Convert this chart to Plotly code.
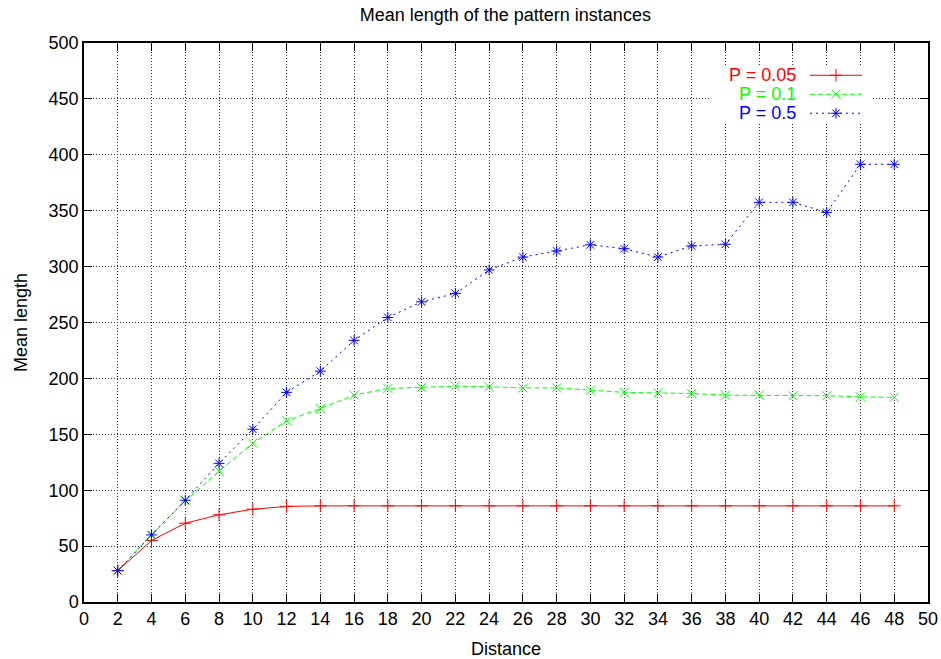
import plotly.graph_objects as go

distance = [2, 4, 6, 8, 10, 12, 14, 16, 18, 20, 22, 24, 26, 28, 30, 32, 34, 36, 38, 40, 42, 44, 46, 48]
p005 = [28, 55, 70.5, 78, 83, 85.5, 86, 86, 86, 86, 86, 86, 86, 86, 86, 86, 86, 86, 86, 86, 86, 86, 86, 86]
p01 = [28, 60, 90.5, 117, 142, 162, 173, 185, 191, 192, 193, 192.5, 191.5, 191.5, 189.5, 187.5, 187, 186.5, 185, 185, 184.5, 184.5, 183.5, 183]
p05 = [28, 60, 91, 124, 154.5, 187.5, 206.5, 234, 254.5, 268.5, 276, 297, 308.5, 314, 319.5, 316, 308.5, 318.5, 320, 357.5, 357.5, 348.5, 391.5, 391.5]

series_names = ["P = 0.05", "P = 0.1", "P = 0.5"]
series_colors = ["#ff0000", "#00ff00", "#0000ff"]
series_dash = ["solid", "5px,3px", "2px,4px"]
series_symbols = ["cross-thin", "x-thin", "asterisk"]
series_values = [p005, p01, p05]

FONT = "Liberation Sans, Arial, sans-serif"
FS = 18

fig = go.Figure()
for name, col, dash, sym, vals in zip(series_names, series_colors, series_dash, series_symbols, series_values):
    fig.add_trace(go.Scatter(
        x=distance, y=vals, mode="lines+markers", name=name,
        line=dict(color=col, width=1, dash=dash),
        marker=dict(symbol=sym, size=9, color=col, line=dict(color=col, width=1)),
        showlegend=False,
    ))

# Opaque key box (gnuplot style) behind the manual legend, above grid, below traces
fig.add_shape(type="rect", xref="x", yref="y", x0=37.1, x1=46.7, y0=428, y1=480,
              fillcolor="white", line=dict(width=0), layer="between")

# Manual legend (text on the left, sample on the right, gnuplot style) on an overlay pixel axis
leg_y = [75, 94, 113]
for i, (name, col, dash, sym) in enumerate(zip(series_names, series_colors, series_dash, series_symbols)):
    y = leg_y[i]
    fig.add_trace(go.Scatter(
        x=[810, 862], y=[y, y], mode="lines", xaxis="x2", yaxis="y2",
        line=dict(color=col, width=1, dash=dash), showlegend=False, hoverinfo="skip"))
    fig.add_trace(go.Scatter(
        x=[836], y=[y], mode="markers", xaxis="x2", yaxis="y2",
        marker=dict(symbol=sym, size=9, color=col, line=dict(color=col, width=1)),
        showlegend=False, hoverinfo="skip"))
    fig.add_annotation(x=798, y=y, xref="x2", yref="y2", text=name, showarrow=False,
                       xanchor="right", yanchor="middle", font=dict(color=col, size=FS, family=FONT))

grid_common = dict(showgrid=True, gridcolor="#333", griddash="1px,2px", gridwidth=1, zeroline=False)

fig.update_layout(
    width=941, height=659,
    margin=dict(l=84, r=13, t=43, b=57),
    paper_bgcolor="white", plot_bgcolor="white",
    font=dict(family=FONT, size=FS, color="black"),
    title=dict(text="Mean length of the pattern instances", x=0.537, xanchor="center",
               y=0.977, yanchor="middle", font=dict(size=FS, family=FONT)),
    xaxis=dict(
        range=[0, 50], dtick=2, tick0=0, ticks="inside", ticklen=8, tickcolor="black",
        showline=True, linecolor="black", linewidth=1.5, mirror="allticks", automargin=False,
        title=dict(text="Distance", standoff=14, font=dict(size=FS)), **grid_common,
    ),
    yaxis=dict(
        range=[0, 500], dtick=50, tick0=0, ticks="inside", ticklen=8, tickcolor="black",
        showline=True, linecolor="black", linewidth=1.5, mirror="allticks", automargin=False,
        title=dict(text="Mean length", standoff=16, font=dict(size=FS)), **grid_common,
    ),
    xaxis2=dict(range=[84, 928], overlaying="x", visible=False, fixedrange=True, automargin=False),
    yaxis2=dict(range=[602.3, 42.7], overlaying="y", visible=False, fixedrange=True, automargin=False),
    showlegend=False,
)

fig.write_html("out.html")
